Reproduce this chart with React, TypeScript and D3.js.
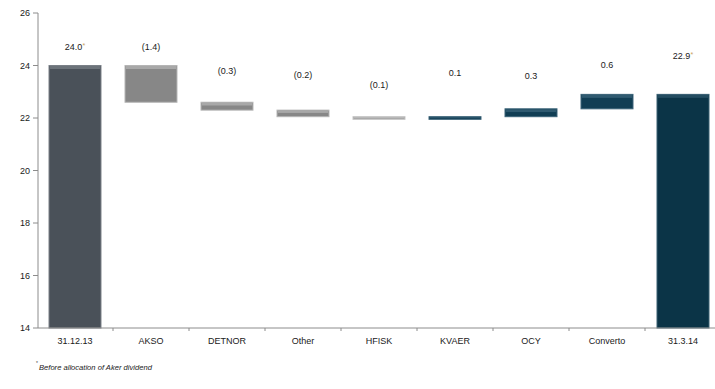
import React from "react";
import * as d3 from "d3";

const categories = ["31.12.13", "AKSO", "DETNOR", "Other", "HFISK", "KVAER", "OCY", "Converto", "31.3.14"];
const startValue = 24.0;
const deltas = [-1.4, -0.3, -0.25, -0.1, 0.1, 0.3, 0.55];
const valueLabels = ["24.0", "(1.4)", "(0.3)", "(0.2)", "(0.1)", "0.1", "0.3", "0.6", "22.9"];
const starred = [true, false, false, false, false, false, false, false, true];
// label heights, in chart units
const labelLevels = [24.72, 24.72, 23.8, 23.64, 23.28, 23.73, 23.6, 24.02, 24.36];
const yTicks = [14, 16, 18, 20, 22, 24, 26];
const footnote = "Before allocation of Aker dividend";

const W = 715;
const H = 389;

export default function App() {
  const y = d3.scaleLinear().domain([14, 26]).range([328, 13]);
  const x = d3
    .scaleBand<string>()
    .domain(categories)
    .range([37, 721])
    .paddingInner(0.316)
    .paddingOuter(0.158);
  const step = x.step();
  const bw = x.bandwidth();

  const bars: { cat: string; lo: number; hi: number; kind: string }[] = [];
  bars.push({ cat: categories[0], lo: 14, hi: startValue, kind: "start" });
  let run = startValue;
  deltas.forEach((d, i) => {
    const next = run + d;
    bars.push({
      cat: categories[i + 1],
      lo: Math.min(run, next),
      hi: Math.max(run, next),
      kind: d < 0 ? (i === 3 ? "negLight" : "neg") : "pos",
    });
    run = next;
  });
  bars.push({ cat: categories[categories.length - 1], lo: 14, hi: run, kind: "end" });

  const styles: Record<string, { fill: string; stroke: string; hl: string }> = {
    start: { fill: "#4a5159", stroke: "#7a8087", hl: "#6c737a" },
    neg: { fill: "#878787", stroke: "#b5b5b5", hl: "#a8a8a8" },
    negLight: { fill: "#a2a2a2", stroke: "#c4c4c4", hl: "#bdbdbd" },
    pos: { fill: "#113e54", stroke: "#3b6378", hl: "#2f5a70" },
    end: { fill: "#0b3447", stroke: "#3a6073", hl: "#244d61" },
  };

  const axisColor = "#8c8c8c";
  const font = "'Liberation Sans', Arial, sans-serif";

  return (
    <svg width={W} height={H} style={{ position: "absolute", left: 0, top: 0 }} fontFamily={font}>
      <rect x={0} y={0} width={W} height={H} fill="#fff" />
      {bars.map((b, i) => {
        const s = styles[b.kind];
        const x0 = x(b.cat)!;
        const yTop = y(b.hi);
        const h = Math.max(y(b.lo) - yTop, 1.5);
        const hl = Math.min(3, h * 0.35);
        return (
          <g key={i}>
            <rect x={x0} y={yTop} width={bw} height={h} fill={s.fill} stroke={s.stroke} strokeWidth={1} />
            <rect x={x0 + 1} y={yTop + 0.5} width={bw - 2} height={hl} fill={s.hl} />
          </g>
        );
      })}
      <line x1={38} x2={38} y1={y(26)} y2={y(14)} stroke={axisColor} strokeWidth={1} />
      {yTicks.map((t) => (
        <g key={t}>
          <line x1={33} x2={38} y1={y(t)} y2={y(t)} stroke={axisColor} />
          <text x={30} y={y(t) + 3.2} fontSize={9} textAnchor="end" fill="#1a1a1a">
            {t}
          </text>
        </g>
      ))}
      <line x1={38} x2={W} y1={y(14)} y2={y(14)} stroke={axisColor} strokeWidth={1} />
      {categories.map((c, i) => {
        const cx = x(c)! + bw / 2;
        const tx = cx - step / 2;
        return (
          <g key={c}>
            {i > 0 && <line x1={tx} x2={tx} y1={y(14)} y2={y(14) + 3} stroke={axisColor} />}
            <text x={cx} y={343.5} fontSize={9} textAnchor="middle" fill="#1a1a1a">
              {c}
            </text>
          </g>
        );
      })}
      {categories.map((c, i) => {
        const cx = x(c)! + bw / 2;
        return (
          <text key={"l" + c} x={cx} y={y(labelLevels[i]) + 3.2} fontSize={9} textAnchor="middle" fill="#1a1a1a">
            {valueLabels[i]}
            {starred[i] && (
              <tspan fill="#c9a15e" fontSize={7} dy={-2}>
                *
              </tspan>
            )}
          </text>
        );
      })}
      <text x={36} y={365} fontSize={5} fill="#444">
        *
      </text>
      <text x={39} y={370} fontSize={7.6} fontStyle="italic" fill="#1a1a1a">
        {footnote}
      </text>
    </svg>
  );
}
